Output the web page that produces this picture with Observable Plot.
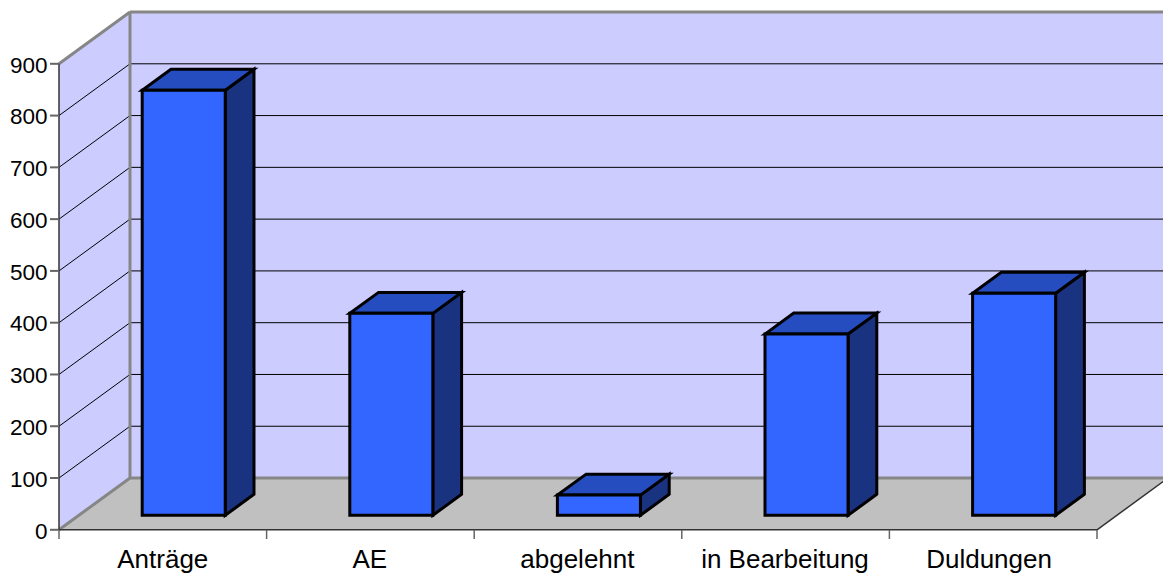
<!DOCTYPE html>
<html>
<head>
<meta charset="utf-8">
<script src="https://cdn.jsdelivr.net/npm/d3@7"></script>
<script src="https://cdn.jsdelivr.net/npm/@observablehq/plot@0.6"></script>
<style>
html,body{margin:0;padding:0;background:#fff}
svg{display:block}
</style>
</head>
<body>
<div id="chart"></div>
<script>
const categories = ["Anträge", "AE", "abgelehnt", "in Bearbeitung", "Duldungen"];
const values = [821, 390, 39, 350, 429];
const yTicks = [0, 100, 200, 300, 400, 500, 600, 700, 800, 900];
const xEdges = [0, 1, 2, 3, 4, 5];
const labelAt = [0.5, 1.497, 2.497, 3.497, 4.48];

// oblique projection: category, value, depth (0 = front, 1 = back wall)
const skewX = 0.342, skewY = 100;
const P = (c, v, d) => ({x: c + d * skewX, y: v + d * skewY});
const yMax = 900, xMax = 5;

const poly = (id, pts) => [...pts, pts[0], pts[1]].map(p => ({...P(...p), id}));
const line = (o) => Plot.line(o.data, {x: "x", y: "y", z: "id", curve: "linear",
  strokeLinejoin: "miter", strokeLinecap: "butt", strokeMiterlimit: 10, ...o.opts});

const backWall = poly("back", [[0,0,1],[xMax+0.2,0,1],[xMax+0.2,yMax,1],[0,yMax,1]]);
const leftWall = poly("left", [[0,0,0],[0,0,1],[0,yMax,1],[0,yMax,0]]);
const floor = poly("floor", [[0,0,0],[xMax,0,0],[xMax,0,1],[0,0,1]]);

const backGrid = yTicks.slice(1).flatMap(t => [{...P(0,t,1), id:t}, {...P(xMax+0.2,t,1), id:t}]);
const leftGrid = yTicks.slice(1).flatMap(t => [{...P(0,t,0), id:t}, {...P(0,t,1), id:t}]);

const d0 = 0.28, d1 = 0.685, inset = 0.305, wide = 0.4;
const fronts = values.flatMap((v,i) => poly("f"+i, [[i+inset,0,d0],[i+inset+wide,0,d0],[i+inset+wide,v,d0],[i+inset,v,d0]]));
const tops = values.flatMap((v,i) => poly("t"+i, [[i+inset,v,d0],[i+inset+wide,v,d0],[i+inset+wide,v,d1],[i+inset,v,d1]]));
const sides = values.flatMap((v,i) => poly("s"+i, [[i+inset+wide,0,d0],[i+inset+wide,0,d1],[i+inset+wide,v,d1],[i+inset+wide,v,d0]]));

const seg = (id, a, b) => [{...P(...a), id}, {...P(...b), id}];
const grayFrame = [
  ...seg("top", [0,yMax,1], [xMax+0.2,yMax,1]),
  ...seg("vert", [0,0,1], [0,yMax,1]),
  ...seg("diagTop", [0,yMax,0], [0,yMax,1]),
  ...seg("diagBottom", [0,0,0], [0,0,1]),
  ...seg("floorBack", [0,0,1], [xMax+0.2,0,1])
];
const darkEdges = [
  ...seg("leftAxis", [0,0,0], [0,yMax,0]),
  ...seg("frontAxis", [0,0,0], [xMax,0,0]),
  ...seg("rightDiag", [xMax,0,0], [xMax,0,1])
];

const chart = Plot.plot({
  width: 1163,
  height: 575,
  marginLeft: 59, marginRight: 66, marginTop: 64, marginBottom: 45,
  style: {background: "#fff", overflow: "hidden", fontFamily: "'Liberation Sans', Arial, sans-serif"},
  x: {type: "linear", domain: [0, xMax], range: [58.5, 1096.5]},
  y: {type: "linear", domain: [0, yMax], range: [529.3, 63.3]},
  marks: [
    line({data: backWall, opts: {fill: "#ccccff", stroke: "none"}}),
    line({data: leftWall, opts: {fill: "#ccccff", stroke: "none"}}),
    line({data: floor, opts: {fill: "#c0c0c0", stroke: "none"}}),
    line({data: backGrid, opts: {stroke: "#000", strokeWidth: 1}}),
    line({data: leftGrid, opts: {stroke: "#000", strokeWidth: 1}}),
    line({data: grayFrame, opts: {stroke: "#868686", strokeWidth: 3}}),
    line({data: darkEdges, opts: {stroke: "#333", strokeWidth: 1.5}}),
    line({data: sides, opts: {fill: "#1a3380", stroke: "#000", strokeWidth: 3}}),
    line({data: tops, opts: {fill: "#264dbf", stroke: "#000", strokeWidth: 3}}),
    line({data: fronts, opts: {fill: "#3366ff", stroke: "#000", strokeWidth: 3}}),
    Plot.axisY({ticks: yTicks, tickSize: 9, tickFormat: () => "", label: null, stroke: "#666", strokeWidth: 2}),
    Plot.axisY({ticks: yTicks, tickSize: 0, tickPadding: 12, dy: 1.5, label: null, fontSize: 22.5, fill: "#000"}),
    Plot.axisX({ticks: xEdges, tickSize: 9, tickFormat: () => "", label: null, stroke: "#666", strokeWidth: 1.5}),
    Plot.axisX({ticks: labelAt, tickSize: 0, tickPadding: 19,
      tickFormat: (d) => categories[Math.floor(d)], label: null, fontSize: 26, fill: "#000"})
  ]
});
document.getElementById("chart").appendChild(chart);
</script>
</body>
</html>
